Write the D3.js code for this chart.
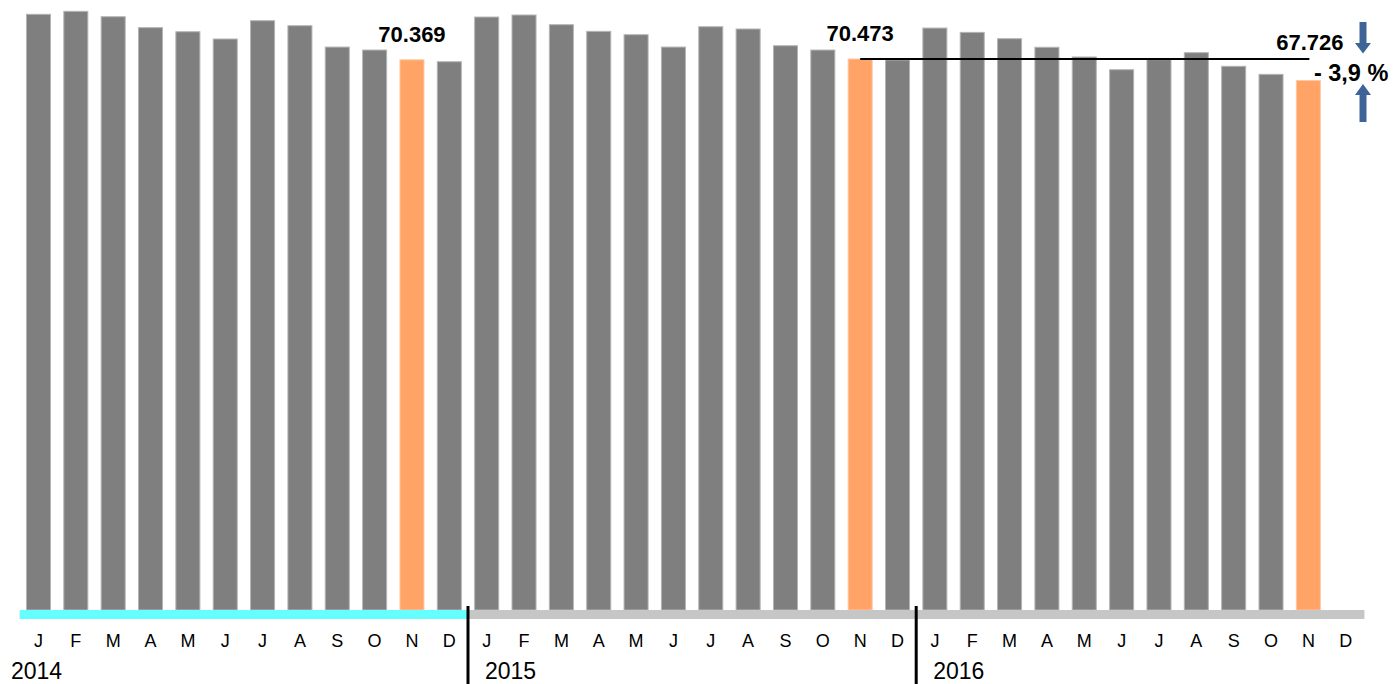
<!DOCTYPE html>
<html>
<head>
<meta charset="utf-8">
<script src="https://cdn.jsdelivr.net/npm/d3@7"></script>
<style>
  html, body { margin: 0; padding: 0; background: #fff; }
  svg { display: block; font-family: "Liberation Sans", Arial, sans-serif; }
</style>
</head>
<body>
<svg id="chart" width="1395" height="684"></svg>
<script>
// ---- data ----
const years = ["2014", "2015", "2016"];
const months = ["J", "F", "M", "A", "M", "J", "J", "A", "S", "O", "N", "D"];
const values2014 = [76190, 76570, 75880, 74480, 73960, 73030, 75370, 74730, 72000, 71620, 70369, 70125];
const values2015 = [75840, 76100, 74860, 74010, 73580, 72000, 74600, 74310, 72170, 71620, 70473, 70350];
const values2016 = [74430, 73880, 73070, 71970, 70730, 69100, 70400, 71280, 69540, 68510, 67726, null];
const highlightMonth = 10; // November
const refIndex = 12 + highlightMonth; // Nov 2015
const compIndex = 24 + highlightMonth; // Nov 2016

// ---- build flat table ----
const allValues = [values2014, values2015, values2016];
const data = [];
allValues.forEach((arr, yi) => arr.forEach((v, mi) => data.push({ i: yi * 12 + mi, year: years[yi], month: months[mi], mi, value: v })));

const de = d3.formatLocale({ decimal: ",", thousands: ".", grouping: [3], currency: ["", " €"] });
const fmtNum = de.format(",d");
const fmtPct = de.format(".1f");

const svg = d3.select("#chart");
const x = d3.scaleBand().domain(d3.range(data.length)).range([19.8, 1364.4]).paddingInner(0.33).paddingOuter(0.165);
const y = d3.scaleLinear().domain([0, 78000]).range([610, 0.15]);
const step = x.step();
const gap = step - x.bandwidth();

// bars
svg.append("g").selectAll("rect").data(data.filter(d => d.value != null)).join("rect")
  .attr("x", d => x(d.i) + 0.5)
  .attr("y", d => y(d.value))
  .attr("width", x.bandwidth() - 1)
  .attr("height", d => y(0) - y(d.value))
  .attr("fill", d => d.mi === highlightMonth ? "#ffa466" : "#7f7f7f")
  .attr("stroke", d => d.mi === highlightMonth ? "#ffc8a0" : "#b4b4b4")
  .attr("stroke-width", 1);

// baseline band
const bandLeft = x(0) - gap / 2;
const bandRight = x(data.length - 1) + x.bandwidth() + gap / 2;
svg.append("rect").attr("x", bandLeft).attr("y", y(0)).attr("width", bandRight - bandLeft).attr("height", 9).attr("fill", "#c6c6c6");
svg.append("rect").attr("x", bandLeft).attr("y", y(0)).attr("width", x(12) - gap / 2 - bandLeft).attr("height", 9).attr("fill", "#66ffff");

// month labels
svg.append("g").selectAll("text").data(data).join("text")
  .attr("x", d => x(d.i) + x.bandwidth() / 2)
  .attr("y", 647)
  .attr("text-anchor", "middle")
  .attr("font-size", 18)
  .attr("fill", "#000")
  .text(d => d.month);

// year separators and labels
[1, 2].forEach(k => {
  const sx = x(k * 12) - gap / 2;
  svg.append("line").attr("x1", sx).attr("x2", sx).attr("y1", 606).attr("y2", 684)
    .attr("stroke", "#000").attr("stroke-width", 3);
});
years.forEach((yr, k) => {
  const sx = k === 0 ? 11 : x(k * 12) - gap / 2 + 17;
  svg.append("text").attr("x", sx).attr("y", 679).attr("font-size", 23).attr("fill", "#000").text(yr);
});

// value labels on highlighted bars
const n2014 = data[highlightMonth];
const n2015 = data[refIndex];
const n2016 = data[compIndex];
[n2014, n2015].forEach(d => {
  svg.append("text").attr("x", x(d.i) + x.bandwidth() / 2).attr("y", y(d.value) - 18)
    .attr("text-anchor", "middle").attr("font-size", 22).attr("font-weight", "bold").text(fmtNum(d.value));
});

// reference line from Nov 2015 to Nov 2016
svg.append("line")
  .attr("x1", x(n2015.i) + x.bandwidth() / 2)
  .attr("x2", x(n2016.i) + x.bandwidth() / 2 + 1)
  .attr("y1", y(n2015.value)).attr("y2", y(n2015.value))
  .attr("stroke", "#000").attr("stroke-width", 2);

svg.append("text").attr("x", x(n2016.i) + x.bandwidth() / 2 + 1.5).attr("y", y(n2015.value) - 9)
  .attr("text-anchor", "middle").attr("font-size", 22).attr("font-weight", "bold").text(fmtNum(n2016.value));

const pct = (n2016.value - n2015.value) / n2015.value * 100;
svg.append("text").attr("x", x(n2016.i) + x.bandwidth() / 2 + 5.5).attr("y", 81)
  .attr("font-size", 23.5).attr("font-weight", "bold")
  .text((pct < 0 ? "- " : "+ ") + fmtPct(Math.abs(pct)) + " %");

// arrows
const ax = 1363, sw = 3.5, hw = 8;
const arrowCol = "#3e6396";
svg.append("path").attr("fill", arrowCol)
  .attr("d", `M${ax - sw},22 L${ax + sw},22 L${ax + sw},43 L${ax + hw},43 L${ax},53.5 L${ax - hw},43 L${ax - sw},43 Z`);
svg.append("path").attr("fill", arrowCol)
  .attr("d", `M${ax - sw},122 L${ax + sw},122 L${ax + sw},95 L${ax + hw},95 L${ax},84 L${ax - hw},95 L${ax - sw},95 Z`);
</script>
</body>
</html>
